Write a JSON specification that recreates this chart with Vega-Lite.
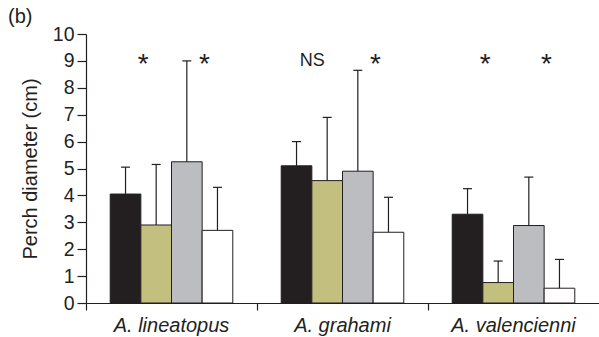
{
  "$schema": "https://vega.github.io/schema/vega-lite/v6.json",
  "width": 513,
  "height": 269,
  "autosize": {"type": "none"},
  "padding": {"left": 86, "top": 34, "right": 0, "bottom": 34},
  "background": "white",
  "config": {
    "view": {"stroke": null},
    "font": "Liberation Sans",
    "axisY": {"tickCount": 10, "titleFontSize": 20, "titleFontWeight": "normal", "titleColor": "#231f20", "titlePadding": 12, "labelOverlap": false, "labelFontSize": 19.5, "labelColor": "#231f20", "tickSize": 9, "labelPadding": 3, "grid": false, "domainColor": "#231f20", "tickColor": "#231f20", "domainWidth": 1.2, "tickWidth": 1.2},
    "axisX": {"labelAngle": 0, "labelFontStyle": "italic", "labelFontSize": 20, "labelColor": "#231f20", "bandPosition": 0, "tickSize": 7, "labelPadding": 5, "labelOverlap": false, "domainColor": "#231f20", "tickColor": "#231f20", "domainWidth": 1.2, "tickWidth": 1.2}
  },
  "title": {"text": "(b)", "anchor": "start", "frame": "group", "dx": -78, "offset": -3, "fontSize": 20, "fontWeight": "normal", "color": "#231f20"},
  "datasets": {
    "bars": [
      {"species": "A. lineatopus", "treatment": "t1", "mean": 4.05, "upper": 5.05},
      {"species": "A. lineatopus", "treatment": "t2", "mean": 2.9, "upper": 5.15},
      {"species": "A. lineatopus", "treatment": "t3", "mean": 5.25, "upper": 9.0},
      {"species": "A. lineatopus", "treatment": "t4", "mean": 2.7, "upper": 4.3},
      {"species": "A. grahami", "treatment": "t1", "mean": 5.1, "upper": 6.0},
      {"species": "A. grahami", "treatment": "t2", "mean": 4.55, "upper": 6.9},
      {"species": "A. grahami", "treatment": "t3", "mean": 4.9, "upper": 8.65},
      {"species": "A. grahami", "treatment": "t4", "mean": 2.63, "upper": 3.93},
      {"species": "A. valencienni", "treatment": "t1", "mean": 3.3, "upper": 4.25},
      {"species": "A. valencienni", "treatment": "t2", "mean": 0.76, "upper": 1.56},
      {"species": "A. valencienni", "treatment": "t3", "mean": 2.88, "upper": 4.68},
      {"species": "A. valencienni", "treatment": "t4", "mean": 0.55, "upper": 1.62}
    ],
    "notes": [
      {"species": "A. lineatopus", "treatment": "t2", "label": "*", "y": 8.56},
      {"species": "A. lineatopus", "treatment": "t4", "label": "*", "y": 8.56},
      {"species": "A. grahami", "treatment": "t2", "label": "NS", "y": 8.8},
      {"species": "A. grahami", "treatment": "t4", "label": "*", "y": 8.56},
      {"species": "A. valencienni", "treatment": "t2", "label": "*", "y": 8.56},
      {"species": "A. valencienni", "treatment": "t4", "label": "*", "y": 8.56}
    ]
  },
  "encoding": {
    "x": {
      "field": "species", "type": "nominal",
      "scale": {"domain": ["A. lineatopus", "A. grahami", "A. valencienni"], "paddingInner": 0, "paddingOuter": 0},
      "axis": {"title": null}
    },
    "xOffset": {
      "field": "treatment", "type": "nominal",
      "scale": {"domain": ["t1", "t2", "t3", "t4"], "paddingInner": 0, "paddingOuter": 0.79}
    }
  },
  "layer": [
    {
      "data": {"name": "bars"},
      "mark": {"type": "bar", "stroke": "#231f20", "strokeWidth": 1},
      "encoding": {
        "y": {
          "field": "mean", "type": "quantitative",
          "scale": {"domain": [0, 10], "nice": false},
          "axis": {"title": "Perch diameter (cm)", "tickCount": 10, "titleFontSize": 20, "labelFontSize": 19.5}
        },
        "color": {
          "field": "treatment", "type": "nominal", "legend": null,
          "scale": {"domain": ["t1", "t2", "t3", "t4"], "range": ["#231f20", "#c3bf7e", "#bcbdc0", "#ffffff"]}
        }
      }
    },
    {
      "data": {"name": "bars"},
      "mark": {"type": "rule", "color": "#231f20", "strokeWidth": 1.2},
      "encoding": {
        "y": {"field": "mean", "type": "quantitative"},
        "y2": {"field": "upper"}
      }
    },
    {
      "data": {"name": "bars"},
      "mark": {"type": "tick", "orient": "horizontal", "size": 9, "thickness": 1.2, "color": "#231f20", "opacity": 1},
      "encoding": {
        "y": {"field": "upper", "type": "quantitative"}
      }
    },
    {
      "data": {"name": "notes"},
      "transform": [{"filter": "datum.label === '*'"}],
      "mark": {"type": "text", "fontSize": 28, "baseline": "alphabetic", "align": "center", "dx": -13, "color": "#231f20"},
      "encoding": {
        "y": {"field": "y", "type": "quantitative"},
        "text": {"field": "label"}
      }
    },
    {
      "data": {"name": "notes"},
      "transform": [{"filter": "datum.label === 'NS'"}],
      "mark": {"type": "text", "fontSize": 18, "baseline": "alphabetic", "align": "center", "dx": -15, "color": "#231f20"},
      "encoding": {
        "y": {"field": "y", "type": "quantitative"},
        "text": {"field": "label"}
      }
    }
  ]
}
